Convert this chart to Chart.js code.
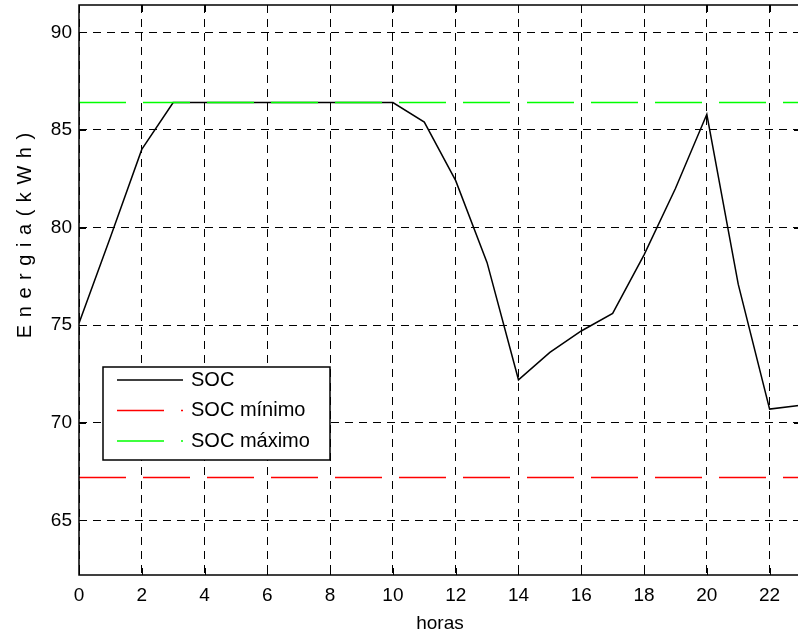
<!DOCTYPE html>
<html>
<head>
<meta charset="utf-8">
<script src="https://cdn.jsdelivr.net/npm/chart.js@4"></script>
<style>
html, body { margin: 0; padding: 0; background: #fff; overflow: hidden; }
#wrap { position: relative; width: 803px; height: 635px; }
</style>
</head>
<body>
<div id="wrap"><canvas id="myChart" width="803" height="635"></canvas></div>
<script>
// datos
const horas = [0, 1, 2, 3, 4, 5, 6, 7, 8, 9, 10, 11, 12, 13, 14, 15, 16, 17, 18, 19, 20, 21, 22, 23]
const soc = [75.1, 79.5, 84.0, 86.4, 86.4, 86.4, 86.4, 86.4, 86.4, 86.4, 86.4, 85.4, 82.4, 78.2, 72.2, 73.6, 74.7, 75.6, 78.6, 82.0, 85.8, 77.1, 70.7, 70.9]
const socMinimo = [67.2, 67.2, 67.2, 67.2, 67.2, 67.2, 67.2, 67.2, 67.2, 67.2, 67.2, 67.2, 67.2, 67.2, 67.2, 67.2, 67.2, 67.2, 67.2, 67.2, 67.2, 67.2, 67.2, 67.2]
const socMaximo = [86.4, 86.4, 86.4, 86.4, 86.4, 86.4, 86.4, 86.4, 86.4, 86.4, 86.4, 86.4, 86.4, 86.4, 86.4, 86.4, 86.4, 86.4, 86.4, 86.4, 86.4, 86.4, 86.4, 86.4]
const xTicks = [0, 2, 4, 6, 8, 10, 12, 14, 16, 18, 20, 22]
const yTicks = [65, 70, 75, 80, 85, 90]

const fuente = 'Liberation Sans, Arial, sans-serif'

function puntos(ys) {
    return horas.map((h, i) => ({ x: h, y: ys[i] }))
}

// marco del eje y marcas hacia dentro (estilo matlab)
const marco = {
    id: 'marco',
    afterDraw(chart) {
        const ctx = chart.ctx
        const a = chart.chartArea
        const sx = chart.scales.x, sy = chart.scales.y
        ctx.save()
        ctx.strokeStyle = '#000'
        ctx.lineWidth = 1
        ctx.beginPath()
        xTicks.forEach(v => {
            const px = Math.round(sx.getPixelForValue(v)) + 0.5
            ctx.moveTo(px, a.bottom); ctx.lineTo(px, a.bottom - 7)
            ctx.moveTo(px, a.top); ctx.lineTo(px, a.top + 7)
        })
        yTicks.forEach(v => {
            const py = Math.round(sy.getPixelForValue(v)) + 0.5
            ctx.moveTo(a.left, py); ctx.lineTo(a.left + 7, py)
            ctx.moveTo(a.right, py); ctx.lineTo(a.right - 7, py)
        })
        ctx.stroke()
        ctx.lineWidth = 1.5
        ctx.strokeRect(a.left, a.top, a.right - a.left, a.bottom - a.top)

        // titulos de los ejes
        ctx.fillStyle = '#000'
        ctx.font = '19px ' + fuente
        ctx.textAlign = 'center'
        ctx.textBaseline = 'middle'
        ctx.fillText('horas', (a.left + a.right) / 2, 624)
        ctx.translate(25, 235)
        ctx.rotate(-Math.PI / 2)
        ctx.font = '20px ' + fuente
        ctx.letterSpacing = '1px'
        ctx.fillText('E n e r g i a ( k W h )', 0, 0)
        ctx.restore()
    }
}

const leyenda = {
    id: 'leyenda',
    afterDraw(chart) {
        const ctx = chart.ctx
        ctx.save()
        ctx.fillStyle = '#fff'
        ctx.fillRect(103, 367, 227, 93)
        ctx.strokeStyle = '#000'
        ctx.lineWidth = 1.5
        ctx.strokeRect(103, 367, 227, 93)
        chart.data.datasets.forEach((ds, i) => {
            const y = 380 + i * 30.5
            ctx.strokeStyle = ds.borderColor
            ctx.lineWidth = ds.borderWidth
            ctx.setLineDash(ds.borderDash || [])
            ctx.beginPath()
            ctx.moveTo(117, y)
            ctx.lineTo(183, y)
            ctx.stroke()
            ctx.setLineDash([])
            ctx.fillStyle = '#000'
            ctx.font = '20px ' + fuente
            ctx.textBaseline = 'middle'
            ctx.fillText(ds.label, 191, y)
        })
        ctx.restore()
    }
}

var ctx = document.getElementById('myChart').getContext('2d');
var chart = new Chart(ctx, {
    type: 'line',
    data: {
        datasets: [{
            label: 'SOC',
            data: puntos(soc),
            borderColor: '#000000',
            borderWidth: 1.5,
            order: 2
        },
        {
            label: 'SOC mínimo',
            data: puntos(socMinimo),
            borderColor: '#ff0000',
            borderWidth: 1.5,
            borderDash: [47, 17],
            order: 1
        },
        {
            label: 'SOC máximo',
            data: puntos(socMaximo),
            borderColor: '#00ff00',
            borderWidth: 1.5,
            borderDash: [47, 17],
            order: 1
        }]
    },
    options: {
        responsive: false,
        animation: false,
        layout: { padding: { top: 5, right: 2, left: 0, bottom: 0 } },
        elements: { point: { radius: 0 }, line: { tension: 0 } },
        plugins: { legend: { display: false }, tooltip: { enabled: false } },
        scales: {
            x: {
                type: 'linear',
                min: 0,
                max: 23,
                afterBuildTicks: s => { s.ticks = xTicks.map(v => ({ value: v })) },
                afterFit: s => { s.height = 60; s.paddingLeft = 0; s.paddingRight = 0 },
                grid: { color: '#000', lineWidth: 1, drawTicks: false },
                border: { display: false, dash: [8, 6] },
                ticks: { color: '#000', font: { family: fuente, size: 19 }, padding: 9, maxRotation: 0, autoSkip: false }
            },
            y: {
                min: 62.2,
                max: 91.4,
                afterBuildTicks: s => { s.ticks = yTicks.map(v => ({ value: v })) },
                afterFit: s => { s.width = 79; s.paddingTop = 0; s.paddingBottom = 0 },
                grid: { color: '#000', lineWidth: 1, drawTicks: false },
                border: { display: false, dash: [8, 6] },
                ticks: { color: '#000', font: { family: fuente, size: 19 }, padding: 7, autoSkip: false }
            }
        }
    },
    plugins: [marco, leyenda]
});
</script>
</body>
</html>
